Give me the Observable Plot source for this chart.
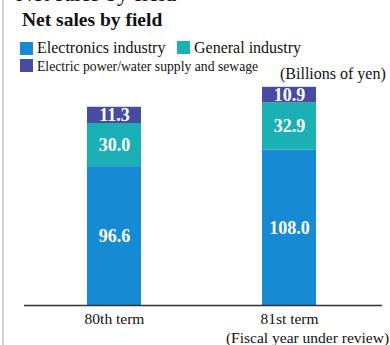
<!DOCTYPE html>
<html><head><meta charset="utf-8">
<script src="https://cdn.jsdelivr.net/npm/d3@7"></script>
<script src="https://cdn.jsdelivr.net/npm/@observablehq/plot@0.6"></script>
<style>
body{margin:0;background:#fff;font-family:"Liberation Serif","DejaVu Serif",serif;}
#wrap{position:relative;width:390px;height:345px;overflow:hidden;background:#fff;}
.abs{position:absolute;white-space:nowrap;color:#111;}
.sw{position:absolute;width:13px;height:13px;}
#border{position:absolute;left:2px;top:0;width:2px;height:345px;background:#d4d4d4;}
#chart{position:absolute;left:0;top:0;}
</style></head>
<body><div id="wrap">
<div id="chart"></div>
<div id="border"></div>
<div class="abs" style="left:16px;top:-19px;font-size:23px;">Net sales by field</div>
<div class="abs" style="left:22px;top:9px;font-size:19.5px;font-weight:bold;">Net sales by field</div>
<div id="legend"></div>
<div class="abs" style="left:280px;top:65px;font-size:16px;">(Billions of yen)</div>
</div>
<script>
const terms = ["80th term", "81st term"];
const termNotes = ["", "(Fiscal year under review)"];
const fields = ["Electronics industry", "General industry", "Electric power/water supply and sewage"];
const colors = ["#168ad2", "#1bafb6", "#474ca3"];
const electronics = [96.6, 108.0];
const general = [30.0, 32.9];
const power = [11.3, 10.9];

const series = [electronics, general, power];
const rows = [];
terms.forEach((t, i) => fields.forEach((f, j) => rows.push({term: t, field: f, value: series[j][i]})));

// legend
const legend = document.getElementById("legend");
const legendPos = [
  {sx: 20, sy: 42, tx: 37, ty: 39, fs: 16},
  {sx: 177, sy: 41, tx: 194, ty: 39, fs: 16},
  {sx: 20, sy: 59, tx: 37, ty: 58.5, fs: 13.7}
];
fields.forEach((f, j) => {
  const p = legendPos[j];
  const s = document.createElement("div");
  s.className = "sw"; s.style.left = p.sx + "px"; s.style.top = p.sy + "px"; s.style.background = colors[j];
  legend.appendChild(s);
  const t = document.createElement("div");
  t.className = "abs"; t.style.left = p.tx + "px"; t.style.top = p.ty + "px"; t.style.fontSize = p.fs + "px";
  t.textContent = f;
  legend.appendChild(t);
});

const plot = Plot.plot({
  width: 390,
  height: 345,
  marginTop: 75,
  marginBottom: 40,
  marginLeft: 24,
  marginRight: 8,
  style: {fontFamily: "'Liberation Serif', serif", background: "transparent", color: "#111"},
  x: {domain: terms, range: [86, 316], paddingInner: 0.693, paddingOuter: 0, axis: null},
  y: {domain: [0, 160], axis: null},
  color: {domain: fields, range: colors},
  marks: [
    Plot.barY(rows, {x: "term", y: "value", fill: "field", z: "field"}),
    Plot.text(rows, Plot.stackY({x: "term", y: "value", z: "field", text: d => d.value.toFixed(1),
      fill: "white", fontWeight: "bold", fontSize: 18})),
    Plot.ruleY([0], {stroke: "#333", strokeWidth: 1.3}),
    Plot.text(terms, {x: d => d, y: 0, dy: 14, text: d => d, fontSize: 15.5, fill: "#111"}),
    Plot.text(terms.map((t, i) => ({t, n: termNotes[i]})).filter(d => d.n), {x: "t", y: 0, dy: 33, dx: 18, text: "n", fontSize: 15.5, fill: "#111"})
  ]
});
document.getElementById("chart").appendChild(plot);
</script>
</body></html>
